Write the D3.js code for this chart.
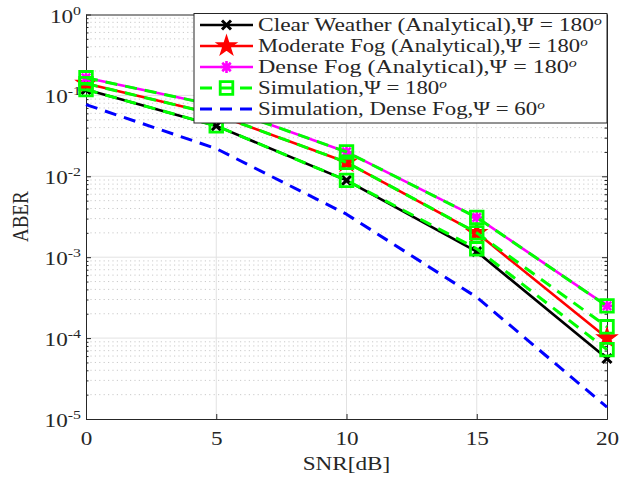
<!DOCTYPE html>
<html>
<head>
<meta charset="utf-8">
<script src="https://cdn.jsdelivr.net/npm/d3@7"></script>
<style>
  html, body { margin: 0; padding: 0; background: #fff; }
  svg { display: block; }
  text { font-family: "Liberation Serif", "Times New Roman", serif; fill: #262626; }
</style>
</head>
<body>
<svg id="chart" width="619" height="479"></svg>
<script>
// ---------------- data ----------------
const snr = [0, 5, 10, 15, 20];
const clearAnalytical    = [0.118, 0.042, 0.0089, 0.00117, 5.6e-5];
const moderateAnalytical = [0.14, 0.058, 0.0149, 0.0020, 1.0e-4];
const denseAnalytical    = [0.165, 0.075, 0.020, 0.0031, 2.5e-4];
const simClear           = [0.118, 0.042, 0.0089, 0.00127, 7.2e-5];
const simModerate        = [0.14, 0.058, 0.0149, 0.0020, 1.38e-4];
const simDense           = [0.165, 0.075, 0.020, 0.0031, 2.5e-4];
const simDenseFog60      = [0.077, 0.022, 0.0034, 3.2e-4, 1.4e-5];

const xTicks = [0, 5, 10, 15, 20];
const xTickLabels = ["0", "5", "10", "15", "20"];
const yTickExponents = [0, -1, -2, -3, -4, -5];
const legendLabels = [
  "Clear Weather (Analytical),\u03A8 = 180",
  "Moderate Fog (Analytical),\u03A8 = 180",
  "Dense Fog (Analytical),\u03A8 = 180",
  "Simulation,\u03A8 = 180",
  "Simulation, Dense Fog,\u03A8 = 60"
];
const legendSup = ["o", "o", "o", "o", "o"];
const xLabel = "SNR[dB]";
const yLabel = "ABER";

// ---------------- layout ----------------
const L = 86, R = 607, T = 14.5, B = 419;
const SX = 1.22; // horizontal stretch of glyphs in the reference
const AX = "#262626";
const svg = d3.select("#chart");
const x = d3.scaleLinear().domain([0, 20]).range([L, R]);
const y = d3.scaleLog().domain([1e-5, 1]).range([B, T]);

// grid
const majorY = yTickExponents.map(e => Math.pow(10, e)).filter(v => v > 1e-5 && v < 1);
const minorY = [];
for (let e = -5; e < 0; e++) for (let m = 2; m <= 9; m++) minorY.push(m * Math.pow(10, e));

const grid = svg.append("g");
grid.selectAll(".minor").data(minorY).join("line")
  .attr("x1", L).attr("x2", R)
  .attr("y1", d => y(d)).attr("y2", d => y(d))
  .attr("stroke", "#c4c4c4").attr("stroke-width", 0.9)
  .attr("stroke-dasharray", "1.2,3.2");
grid.selectAll(".majorY").data(majorY).join("line")
  .attr("x1", L).attr("x2", R)
  .attr("y1", d => y(d)).attr("y2", d => y(d))
  .attr("stroke", "#e2e2e2").attr("stroke-width", 1);
grid.selectAll(".majorX").data(xTicks.filter(v => v > 0 && v < 20)).join("line")
  .attr("y1", T).attr("y2", B)
  .attr("x1", d => x(d)).attr("x2", d => x(d))
  .attr("stroke", "#e2e2e2").attr("stroke-width", 1);

// axes (inward ticks)
function styleAxis(g) {
  g.selectAll("path.domain").attr("stroke", AX).attr("stroke-width", 1);
  g.selectAll(".tick line").attr("stroke", AX).attr("stroke-width", 1);
}
const gx = svg.append("g").attr("transform", `translate(0,${B})`)
  .call(d3.axisBottom(x).tickValues(xTicks).tickSizeInner(-5).tickSizeOuter(0).tickPadding(0)
    .tickFormat((d, i) => xTickLabels[i]));
styleAxis(gx);
gx.selectAll(".tick text")
  .attr("y", 26).attr("dy", null)
  .attr("font-size", 19).attr("font-family", "Liberation Serif")
  .attr("fill", AX)
  .attr("transform", `scale(${SX},1)`);

const gxTop = svg.append("g").attr("transform", `translate(0,${T})`)
  .call(d3.axisTop(x).tickValues(xTicks).tickSizeInner(-5).tickSizeOuter(0).tickFormat(""));
styleAxis(gxTop);

const yMajorVals = yTickExponents.map(e => Math.pow(10, e));
const gy = svg.append("g").attr("transform", `translate(${L},0)`)
  .call(d3.axisLeft(y).tickValues(yMajorVals).tickSizeInner(-5).tickSizeOuter(0).tickFormat(""));
styleAxis(gy);
const gyMinor = svg.append("g").attr("transform", `translate(${L},0)`)
  .call(d3.axisLeft(y).tickValues(minorY).tickSizeInner(-2.5).tickSizeOuter(0).tickFormat(""));
styleAxis(gyMinor);
const gyR = svg.append("g").attr("transform", `translate(${R},0)`)
  .call(d3.axisRight(y).tickValues(yMajorVals).tickSizeInner(-5).tickSizeOuter(0).tickFormat(""));
styleAxis(gyR);
const gyRMinor = svg.append("g").attr("transform", `translate(${R},0)`)
  .call(d3.axisRight(y).tickValues(minorY).tickSizeInner(-2.5).tickSizeOuter(0).tickFormat(""));
styleAxis(gyRMinor);

// y tick labels 10^e
const yl = svg.append("g");
yTickExponents.forEach(e => {
  const t = yl.append("text")
    .attr("transform", `translate(81,${y(Math.pow(10, e)) + 8}) scale(${SX},1)`)
    .attr("text-anchor", "end").attr("font-size", 19);
  t.append("tspan").text("10");
  t.append("tspan").attr("dy", -8).attr("font-size", 13).text(String(e));
});

// axis labels
svg.append("text")
  .attr("transform", `translate(${(L + R) / 2},470) scale(${SX},1)`)
  .attr("text-anchor", "middle").attr("font-size", 19).text(xLabel);
svg.append("text")
  .attr("transform", `translate(28,${(T + B) / 2}) scale(${SX},1) rotate(-90)`)
  .attr("text-anchor", "middle").attr("font-size", 19).text(yLabel);

// ---------------- markers ----------------
function xMark(s) { return `M${-s},${-s}L${s},${s}M${-s},${s}L${s},${-s}`; }
function asterisk(s) {
  const d = s * 0.7071;
  return `M${-s},0L${s},0M0,${-s}L0,${s}M${-d},${-d}L${d},${d}M${-d},${d}L${d},${-d}`;
}
function pentagram(r) {
  const ri = r * 0.382; let p = "";
  for (let i = 0; i < 10; i++) {
    const rr = i % 2 === 0 ? r : ri;
    const a = -Math.PI / 2 + i * Math.PI / 5;
    p += (i === 0 ? "M" : "L") + (rr * Math.cos(a)).toFixed(2) + "," + (rr * Math.sin(a)).toFixed(2);
  }
  return p + "Z";
}
function square(s) { return `M${-s},${-s}H${s}V${s}H${-s}Z`; }

const series = [
  { vals: clearAnalytical,    color: "#000000", dash: null,   width: 2.6, marker: "x" },
  { vals: moderateAnalytical, color: "#ff0000", dash: null,   width: 2.6, marker: "star" },
  { vals: denseAnalytical,    color: "#ff00ff", dash: null,   width: 2.6, marker: "ast" },
  { vals: simClear,           color: "#00ff00", dash: "12,8", width: 3,   marker: "sq" },
  { vals: simModerate,        color: "#00ff00", dash: "12,8", width: 3,   marker: "sq" },
  { vals: simDense,           color: "#00ff00", dash: "12,8", width: 3,   marker: "sq" },
  { vals: simDenseFog60,      color: "#0000ff", dash: "12,8", width: 3,   marker: null }
];

function drawMarker(g, type, color, cx, cy) {
  if (type === "x") {
    g.append("path").attr("d", xMark(4.5)).attr("transform", `translate(${cx},${cy})`)
      .attr("stroke", color).attr("stroke-width", 3).attr("fill", "none");
  } else if (type === "star") {
    g.append("path").attr("d", pentagram(10)).attr("transform", `translate(${cx},${cy})`)
      .attr("stroke", color).attr("stroke-width", 1.5).attr("fill", color);
  } else if (type === "ast") {
    g.append("path").attr("d", asterisk(6)).attr("transform", `translate(${cx},${cy})`)
      .attr("stroke", color).attr("stroke-width", 2.6).attr("fill", "none");
  } else if (type === "sq") {
    g.append("path").attr("d", square(6.3)).attr("transform", `translate(${cx},${cy})`)
      .attr("stroke", color).attr("stroke-width", 2.8).attr("fill", "none");
  }
}

const line = d3.line().x((d, i) => x(snr[i])).y(d => y(d));
const plot = svg.append("g");
series.forEach(s => {
  const g = plot.append("g");
  g.append("path").attr("d", line(s.vals))
    .attr("fill", "none").attr("stroke", s.color).attr("stroke-width", s.width)
    .attr("stroke-dasharray", s.dash).attr("stroke-linejoin", "round");
  if (s.marker) s.vals.forEach((v, i) => drawMarker(g, s.marker, s.color, x(snr[i]), y(v)));
});

// ---------------- legend ----------------
const legendEntries = [
  { color: "#000000", dash: null,   width: 2.6, marker: "x" },
  { color: "#ff0000", dash: null,   width: 2.6, marker: "star" },
  { color: "#ff00ff", dash: null,   width: 2.6, marker: "ast" },
  { color: "#00ff00", dash: "12,8", width: 3,   marker: "sq" },
  { color: "#0000ff", dash: "12,8", width: 3,   marker: null }
];
const legendTargetWidths = [344, 330, 319, 189, 287];
const lg = svg.append("g");
lg.append("rect").attr("x", 194).attr("y", 13.5).attr("width", 413).attr("height", 109.5)
  .attr("fill", "#fff").attr("stroke", AX).attr("stroke-width", 1);
legendEntries.forEach((e, i) => {
  const cy = 25 + i * 21;
  lg.append("line").attr("x1", 200).attr("x2", 253).attr("y1", cy).attr("y2", cy)
    .attr("stroke", e.color).attr("stroke-width", e.width).attr("stroke-dasharray", e.dash);
  if (e.marker) drawMarker(lg, e.marker, e.color, 226.5, cy);
  const t = lg.append("text").attr("font-size", 18).attr("x", 0).attr("y", 0);
  t.append("tspan").text(legendLabels[i]);
  t.append("tspan").attr("dy", -6.5).attr("font-size", 12).attr("font-style", "italic").text(legendSup[i]);
  const w = t.node().getBBox().width;
  const k = legendTargetWidths[i] / w;
  t.attr("transform", `translate(258,${cy + 6.2}) scale(${k},1)`);
});
</script>
</body>
</html>
